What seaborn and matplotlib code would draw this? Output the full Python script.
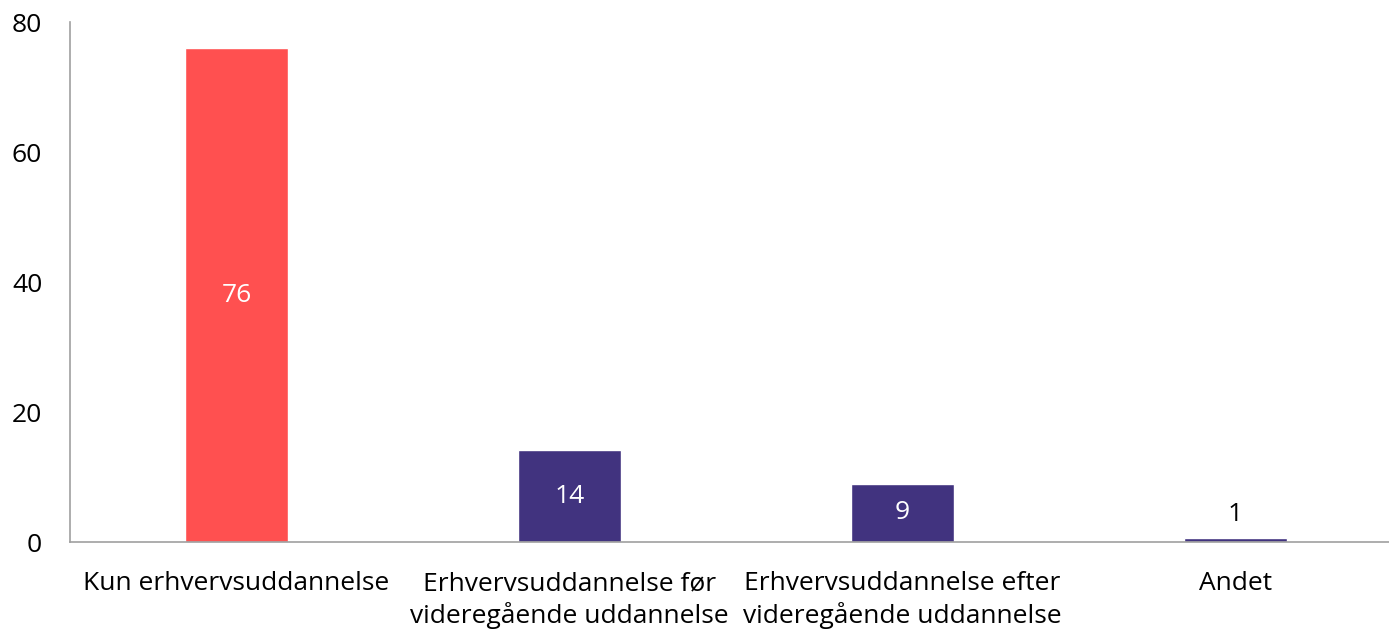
import matplotlib
matplotlib.use("Agg")
import matplotlib.pyplot as plt
import seaborn as sns
import pandas as pd

sns.set_theme(style="white")
plt.rcParams["font.family"] = ["Open Sans", "DejaVu Sans"]

categories = [
    "Kun erhvervsuddannelse",
    "Erhvervsuddannelse før\nvideregående uddannelse",
    "Erhvervsuddannelse efter\nvideregående uddannelse",
    "Andet",
]
values = [76, 14.1, 9, 0.6]
colors = ["#FF5050", "#41337F", "#41337F", "#41337F"]

df = pd.DataFrame({"kategori": categories, "andel": values})

fig = plt.figure(figsize=(13.89, 6.34), dpi=100)
ax = fig.add_axes([70 / 1389, 92 / 634, 1332 / 1389, 520 / 634])

sns.barplot(data=df, x="kategori", y="andel", hue="kategori", palette=colors,
            width=0.312, legend=False, ax=ax, saturation=1)

ax.set_ylim(0, 80)
ax.set_yticks([0, 20, 40, 60, 80])
ax.set_xlim(-0.5, 3.5)
ax.set_xlabel("")
ax.set_ylabel("")

for side in ["top", "right"]:
    ax.spines[side].set_visible(False)
for side in ["left", "bottom"]:
    ax.spines[side].set_color("#A0A0A0")
    ax.spines[side].set_linewidth(1.2)

ax.tick_params(axis="both", labelsize=19, length=0, colors="black")
ax.tick_params(axis="y", pad=20)
ax.tick_params(axis="x", pad=21)
for lbl in ax.get_xticklabels():
    lbl.set_linespacing(1.3)

# data labels: inside for tall bars, above for the small one
for i, cont in enumerate(ax.containers):
    v = values[i]
    if v > 3:
        ax.bar_label(cont, labels=[f"{v:.0f}"], label_type="center",
                     color="white", fontsize=19)
    else:
        ax.bar_label(cont, labels=[f"{v:.0f}"], label_type="edge",
                     color="black", fontsize=19, padding=8)

plt.savefig("out.png", dpi=100)
